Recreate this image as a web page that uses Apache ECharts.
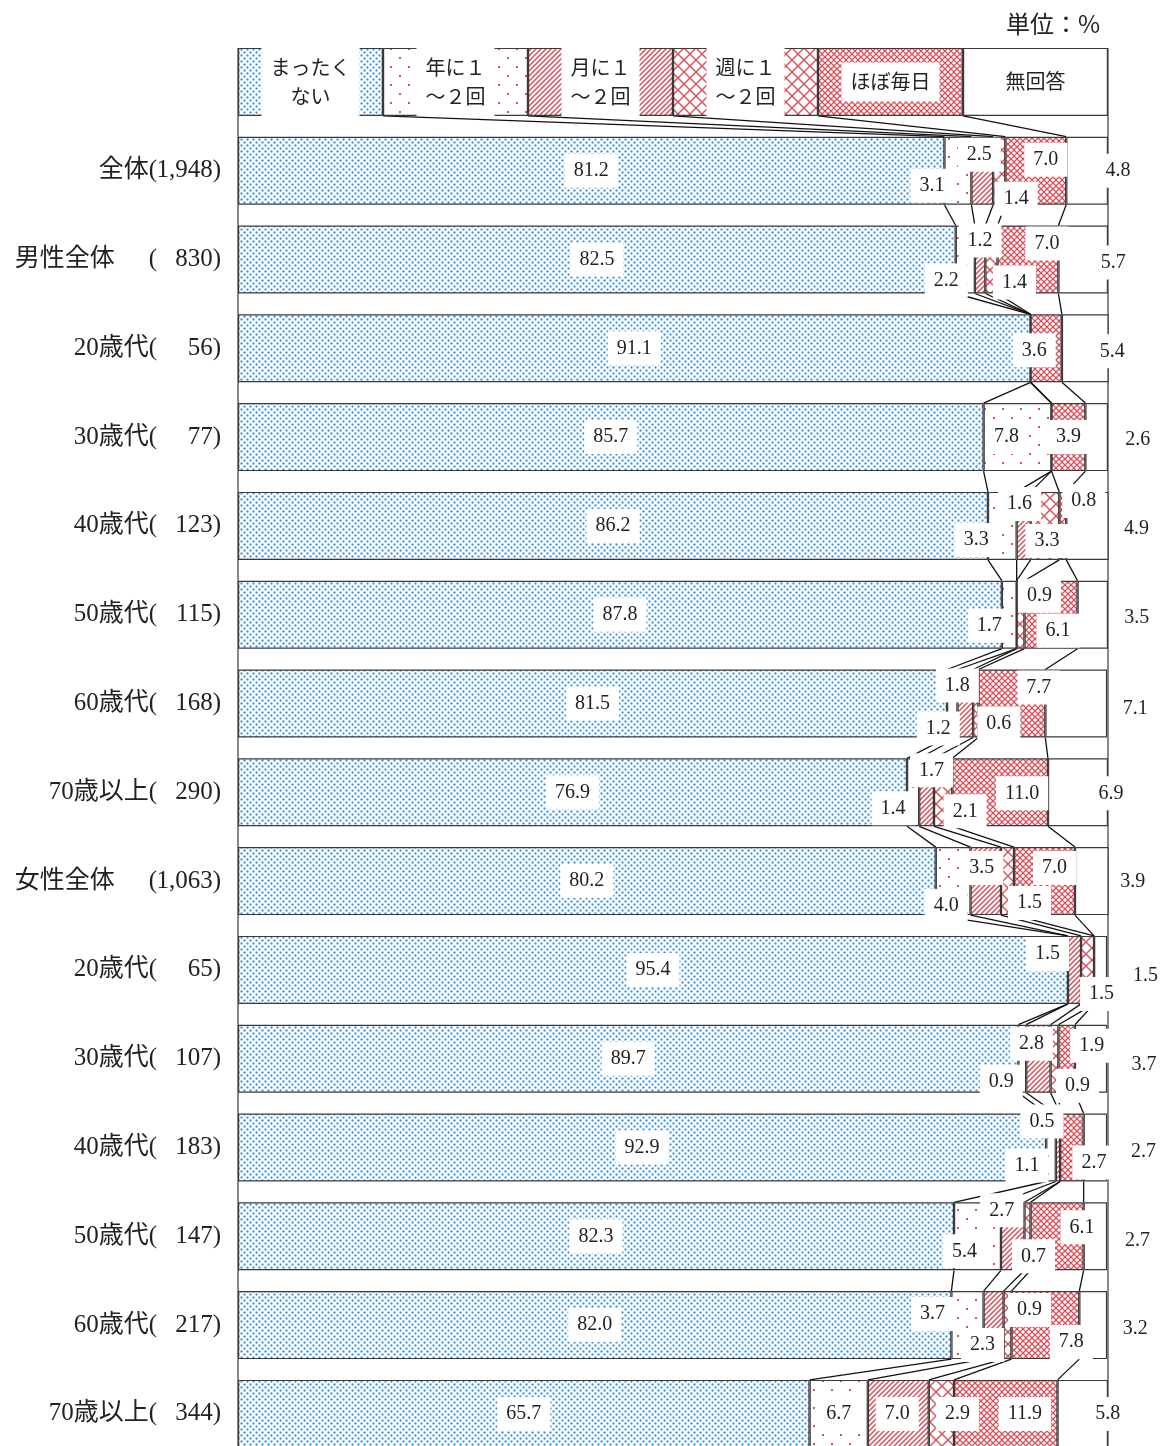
<!DOCTYPE html>
<html>
<head>
<meta charset="utf-8">
<title>運動・スポーツの実施頻度</title>
<script src="https://cdn.jsdelivr.net/npm/echarts@6/dist/echarts.min.js"></script>
<style>
  html, body { margin: 0; padding: 0; background: #fff; overflow: hidden; }
  #chart { width: 1160px; height: 1470px; }
</style>
</head>
<body>
<div id="chart"></div>
<script>
// ---- data ----
const categories = ['全体', '男性全体', '20歳代', '30歳代', '40歳代', '50歳代', '60歳代', '70歳以上',
                    '女性全体', '20歳代', '30歳代', '40歳代', '50歳代', '60歳代', '70歳以上'];
const sampleSizes = ['1,948', '830', '56', '77', '123', '115', '168', '290',
                     '1,063', '65', '107', '183', '147', '217', '344'];
const responses = ['まったく\nない', '年に１\n～２回', '月に１\n～２回', '週に１\n～２回', 'ほぼ毎日', '無回答'];

const never    = [81.2, 82.5, 91.1, 85.7, 86.2, 87.8, 81.5, 76.9, 80.2, 95.4, 89.7, 92.9, 82.3, 82.0, 65.7];
const yearly   = [3.1, 2.2, 0, 7.8, 3.3, 1.7, 1.2, 1.4, 4.0, 0, 0.9, 1.1, 5.4, 3.7, 6.7];
const monthly  = [2.5, 1.2, 0, 0, 1.6, 0, 1.8, 1.7, 3.5, 1.5, 2.8, 0.5, 2.7, 2.3, 7.0];
const weekly   = [1.4, 1.4, 0, 0, 3.3, 0.9, 0.6, 2.1, 1.5, 1.5, 0.9, 0, 0.7, 0.9, 2.9];
const daily    = [7.0, 7.0, 3.6, 3.9, 0.8, 6.1, 7.7, 11.0, 7.0, 0, 1.9, 2.7, 6.1, 7.8, 11.9];
const noAnswer = [4.8, 5.7, 5.4, 2.6, 4.9, 3.5, 7.1, 6.9, 3.9, 1.5, 3.7, 2.7, 2.7, 3.2, 5.8];

// ---- layout: label nudges [dx, dy] in px from each segment centre ----
const labelOffsets = [
  [[0, 0], [-26, 15], [-3, -16], [17, 28], [10, -11], [31, 0]],
  [[0, 0], [-19, 21], [0, -19], [23, 23], [19, -16], [30, 3]],
  [[0, 0], null, null, null, [-12, 2], [27, 3]],
  [[0, 0], [-11, 0], null, null, [0, 0], [41, 3]],
  [[0, 0], [-26, 14], [-4, -22], [2, 15], [21, -25], [49, 3]],
  [[0, 0], [-20, 11], null, [19, -19], [7, 16], [44, 3]],
  [[0, 0], [-14, 25], [-8, -18], [23, 20], [27, -16], [59, 5]],
  [[0, 0], [-20, 16], [5, -22], [22, 19], [22, 1], [33, 1]],
  [[0, 0], [-7, 25], [-4, -13], [22, 22], [10, -13], [41, 1]],
  [[0, 0], null, [-27, -16], [14, 24], null, [45, 6]],
  [[0, 0], [-21, 23], [-7, -15], [23, 27], [25, -13], [53, 6]],
  [[0, 0], [-24, 18], [-16, -26], null, [22, 15], [48, 4]],
  [[0, 0], [-13, 15], [-11, -26], [6, 20], [25, -9], [42, 4]],
  [[0, 0], [-35, -11], [-11, 20], [22, -15], [26, 17], [42, 4]],
  [[0, 0], [0, 0], [-1, 0], [16, 0], [19, 0], [25, 0]]
];
const groupHeads = [1, 8];      // 男性全体 / 女性全体 rows get a gap before the bracket

const BAR_W = 68;
const ROW_H = 88.8;
const FONT_JP = "'Noto Sans CJK JP', sans-serif";
const FONT_NUM = "'Liberation Serif', 'Noto Sans CJK JP', serif";
const BLUE = '#2d8bd6';
const RED = '#d8505a';

// ---- fill patterns ----
function tile(w, h, draw) {
  const c = document.createElement('canvas');
  c.width = w; c.height = h;
  const g = c.getContext('2d');
  g.fillStyle = '#fff';
  g.fillRect(0, 0, w, h);
  draw(g, w, h);
  return { image: c, repeat: 'repeat' };
}
function diag(g, s, dir) {
  // 45° lines across an s x s tile, wrapped at the corners
  g.beginPath();
  if (dir > 0) {          // "/"
    g.moveTo(0, s); g.lineTo(s, 0);
    g.moveTo(-2, 2); g.lineTo(2, -2);
    g.moveTo(s - 2, s + 2); g.lineTo(s + 2, s - 2);
  } else {                // "\"
    g.moveTo(0, 0); g.lineTo(s, s);
    g.moveTo(s - 2, -2); g.lineTo(s + 2, 2);
    g.moveTo(-2, s - 2); g.lineTo(2, s + 2);
  }
  g.stroke();
}
const fills = [
  tile(6, 6, g => { g.fillStyle = BLUE; g.fillRect(0.5, 0.5, 2, 2); g.fillRect(3.5, 3.5, 2, 2); }),
  tile(18, 18, g => { g.fillStyle = RED; g.fillRect(3, 3, 2, 2); g.fillRect(12, 12, 2, 2); }),
  tile(5, 5, (g, s) => { g.strokeStyle = RED; g.lineWidth = 1.5; diag(g, s, 1); }),
  tile(12, 12, (g, s) => { g.strokeStyle = RED; g.lineWidth = 1.4; diag(g, s, 1); diag(g, s, -1); }),
  tile(6, 6, (g, s) => { g.strokeStyle = RED; g.lineWidth = 1.25; diag(g, s, 1); diag(g, s, -1); }),
  '#ffffff'
];

// ---- derived tables ----
const seriesValues = [never, yearly, monthly, weekly, daily, noAnswer];
const legendShare = 100 / responses.length;
const rowTable = categories.map((_, r) => seriesValues.map(s => s[r]));
const allRows = [responses.map(() => legendShare)].concat(rowTable);
const bounds = allRows.map(row => { let s = 0; return row.slice(0, row.length - 1).map(v => (s += v)); });

// connector lines between consecutive bars, plus the two outer frame rules
const links = [];
for (let r = 0; r < allRows.length - 1; r++) {
  for (let k = 0; k < bounds[r].length; k++) {
    links.push([bounds[r][k], r, bounds[r + 1][k], r + 1, 0]);
  }
}
const lastRow = allRows.length - 1;
links.push([0, 0, 0, lastRow, 1], [100, 0, 100, lastRow, 1]);

function barData(k) {
  const head = {
    value: legendShare,
    label: { fontFamily: FONT_JP, fontSize: 20, lineHeight: 29, padding: [5, 9] }
  };
  const rest = seriesValues[k].map((v, r) => {
    const off = labelOffsets[r][k];
    if (!v || !off) return { value: v, label: { show: false } };
    return { value: v, label: { offset: off } };
  });
  return [head].concat(rest);
}

const series = seriesValues.map((_, k) => ({
  type: 'bar',
  name: responses[k],
  stack: 'share',
  barWidth: BAR_W,
  silent: true,
  itemStyle: { color: fills[k], borderColor: '#3a3a3a', borderWidth: 1.2 },
  label: {
    show: true,
    position: 'inside',
    color: '#222',
    fontFamily: FONT_NUM,
    fontSize: 20,
    backgroundColor: '#fff',
    padding: [7, 9],
    formatter: p => (p.dataIndex === 0 ? p.seriesName : Number(p.value).toFixed(1))
  },
  data: barData(k)
}));

series.push({
  type: 'custom',
  z: 1,
  silent: true,
  clip: false,
  encode: { x: [0, 2], y: [1, 3] },
  renderItem(params, api) {
    const a = api.coord([api.value(0), api.value(1)]);
    const b = api.coord([api.value(2), api.value(3)]);
    const half = BAR_W / 2;
    const frame = api.value(4) === 1;
    return {
      type: 'line',
      shape: {
        x1: a[0], y1: frame ? a[1] - half : a[1] + half,
        x2: b[0], y2: frame ? b[1] + half : b[1] - half
      },
      style: { stroke: frame ? '#3a3a3a' : '#111', lineWidth: frame ? 1.2 : 1.3 }
    };
  },
  data: links
});

const chart = echarts.init(document.getElementById('chart'), null, { renderer: 'canvas' });
chart.setOption({
  animation: false,
  backgroundColor: '#fff',
  grid: { left: 238, width: 870, top: 37.5, height: ROW_H * allRows.length },
  xAxis: { type: 'value', min: 0, max: 100, show: false },
  yAxis: {
    type: 'category',
    inverse: true,
    data: [''].concat(categories),
    axisLine: { show: false },
    axisTick: { show: false },
    axisLabel: {
      margin: 17,
      color: '#222',
      fontFamily: FONT_NUM,
      fontSize: 25,
      formatter(value, idx) {
        if (idx === 0) return '';
        const r = idx - 1;
        const gap = groupHeads.includes(r) ? '{g| }' : '';
        return '{n|' + value + '}' + gap + '{p|(}{v|' + sampleSizes[r] + ')}';
      },
      rich: {
        n: { fontFamily: FONT_NUM, fontSize: 25, color: '#222' },
        g: { fontFamily: FONT_NUM, fontSize: 25, width: 34 },
        p: { fontFamily: FONT_NUM, fontSize: 25, color: '#222' },
        v: { fontFamily: FONT_NUM, fontSize: 25, color: '#222', width: 64, align: 'right' }
      }
    }
  },
  graphic: [{
    type: 'text',
    right: 60,
    top: 12,
    style: { text: '単位：%', font: "24px 'Noto Sans CJK JP', sans-serif", fill: '#222' }
  }],
  series
});
</script>
</body>
</html>
